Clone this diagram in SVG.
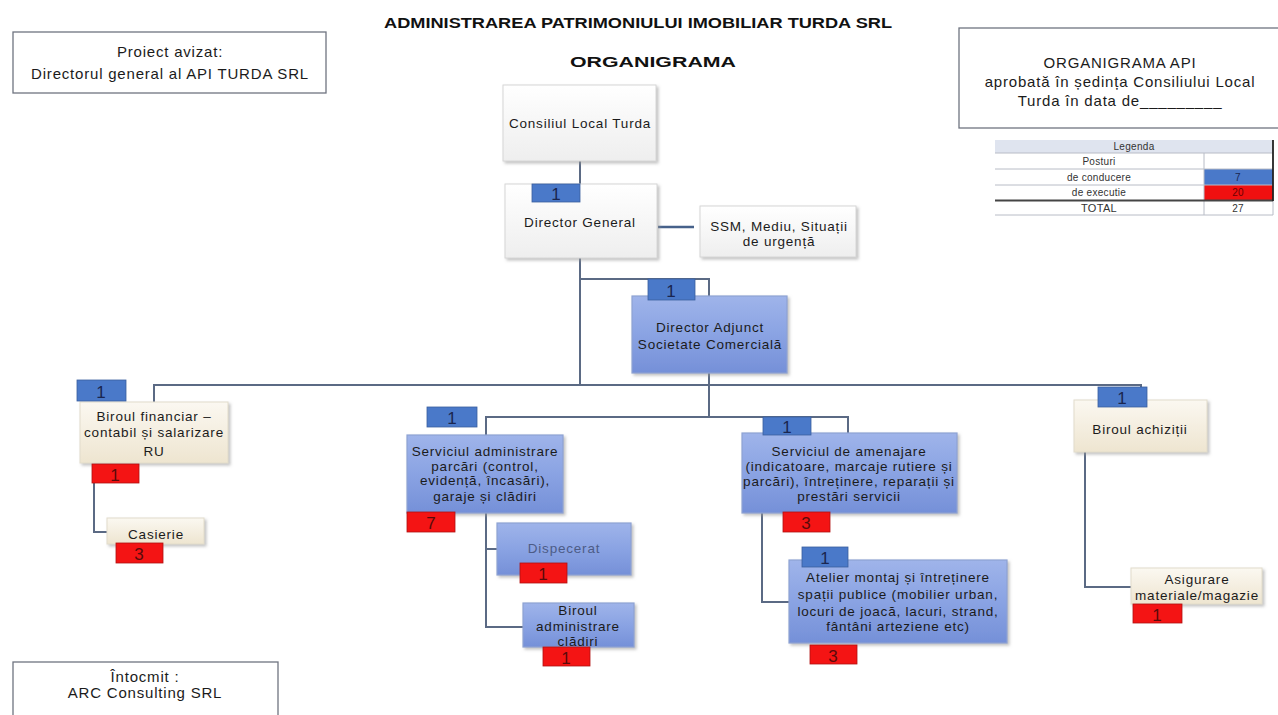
<svg xmlns="http://www.w3.org/2000/svg" width="1278" height="715" viewBox="0 0 1278 715">
<defs>
<linearGradient id="gBlue" x1="0" y1="0" x2="0" y2="1">
<stop offset="0" stop-color="#9fb4ea"/><stop offset="0.5" stop-color="#8aa3e3"/><stop offset="1" stop-color="#7590d8"/>
</linearGradient>
<linearGradient id="gCream" x1="0" y1="0" x2="0" y2="1">
<stop offset="0" stop-color="#fbf8f1"/><stop offset="1" stop-color="#eee5d0"/>
</linearGradient>
<linearGradient id="gWhite" x1="0" y1="0" x2="0" y2="1">
<stop offset="0" stop-color="#ffffff"/><stop offset="1" stop-color="#eeeeee"/>
</linearGradient>
<filter id="sh" x="-10%" y="-10%" width="125%" height="130%">
<feDropShadow dx="2" dy="2" stdDeviation="1.5" flood-color="#9a9a9a" flood-opacity="0.6"/>
</filter>
</defs>
<style>
text{font-family:"Liberation Sans",Arial,sans-serif;fill:#1b1b1b;text-anchor:middle}
.t{font-size:13.5px;letter-spacing:0.8px}
.f{font-size:15px;letter-spacing:0.8px}
.title{font-size:14px;font-weight:bold;fill:#111}
.frame{fill:#fff;stroke:#6f7480;stroke-width:1.3}
.wbox{fill:url(#gWhite);stroke:#d6d6d6;stroke-width:1;filter:url(#sh)}
.bbox{fill:url(#gBlue);stroke:#8ea2d2;stroke-width:1.2;filter:url(#sh)}
.cbox{fill:url(#gCream);stroke:#e2dccb;stroke-width:1;filter:url(#sh)}
.bb{fill:#4a79c9;stroke:#3a5f9f;stroke-width:0.8}
.rb{fill:#f41414;stroke:#b01010;stroke-width:0.8}
.bn{font-size:17px;fill:#1a2650}
.rn{font-size:17px;fill:#5a0a0a}
.conn path{fill:none;stroke:#5b6a84;stroke-width:2}
.lg{font-size:10px;letter-spacing:0.3px;fill:#333}
</style>
<rect width="1278" height="715" fill="#fff"/>

<g id="header">
<text class="title" x="638" y="28" textLength="508" lengthAdjust="spacingAndGlyphs">ADMINISTRAREA PATRIMONIULUI IMOBILIAR TURDA SRL</text>
<text class="title" x="653" y="67" textLength="166" lengthAdjust="spacingAndGlyphs">ORGANIGRAMA</text>
</g>

<g id="avizat">
<rect class="frame" x="13" y="32" width="313" height="61"/>
<text class="f" x="170" y="57">Proiect avizat:</text>
<text class="f" x="170" y="79">Directorul general al API TURDA SRL</text>
</g>

<g id="aprobat">
<rect class="frame" x="959" y="28" width="325" height="100"/>
<text class="f" x="1120" y="68">ORGANIGRAMA API</text>
<text class="f" x="1120" y="87">aprobată în ședința Consiliului Local</text>
<text class="f" x="1120" y="106">Turda în data de_________</text>
</g>

<g id="legenda">
<rect x="995" y="140" width="278" height="13" fill="#dfe4ef"/>
<rect x="995" y="153" width="278" height="62" fill="#fff"/>
<rect x="1204" y="169" width="69" height="16" fill="#4a79c9"/>
<rect x="1204" y="185" width="69" height="15" fill="#f01010"/>
<g stroke="#b8bcc6" stroke-width="1">
<line x1="995" y1="153" x2="1273" y2="153"/>
<line x1="995" y1="169" x2="1273" y2="169"/>
<line x1="995" y1="185" x2="1273" y2="185"/>
<line x1="1204" y1="153" x2="1204" y2="215"/>
<line x1="1273" y1="200" x2="1273" y2="215"/>
<line x1="995" y1="215" x2="1273" y2="215"/>
</g>
<line x1="995" y1="200.5" x2="1273" y2="200.5" stroke="#444" stroke-width="2"/>
<line x1="1273" y1="140" x2="1273" y2="201" stroke="#222" stroke-width="1.8"/>
<text class="lg" x="1134" y="150">Legenda</text>
<text class="lg" x="1099" y="165">Posturi</text>
<text class="lg" x="1099" y="181">de conducere</text>
<text class="lg" x="1099" y="196">de executie</text>
<text class="lg" x="1099" y="212" style="font-size:11px">TOTAL</text>
<text class="lg" x="1238" y="181" style="fill:#1a2650">7</text>
<text class="lg" x="1238" y="196" style="fill:#6a0000">20</text>
<text class="lg" x="1238" y="212">27</text>
</g>

<g id="connectors" class="conn">
<path d="M580 161 V184"/>
<path d="M658 227 H694" style="stroke:#46618a;stroke-width:2.5"/>
<path d="M580 258 V385"/>
<path d="M580 279 H709 V296"/>
<path d="M154 402 V385 H1141 V400"/>
<path d="M709 373 V417"/>
<path d="M486 435 V417 H848 V433"/>
<path d="M486 513 V627 H523"/>
<path d="M486 549 H497"/>
<path d="M762 513 V602 H789"/>
<path d="M94 483 V532 H107"/>
<path d="M1085 452 V587 H1131"/>
</g>

<g id="consiliul">
<rect class="wbox" x="503" y="85" width="153" height="76"/>
<text class="t" x="580" y="128">Consiliul Local Turda</text>
</g>

<g id="director-general">
<rect class="wbox" x="505" y="184" width="152" height="74"/>
<rect class="bb" x="532" y="184" width="48" height="18"/>
<text class="bn" x="556" y="200">1</text>
<text class="t" x="580" y="227">Director General</text>
</g>

<g id="ssm">
<rect class="wbox" x="700" y="206" width="156" height="51"/>
<text class="t" x="779" y="231">SSM, Mediu, Situații</text>
<text class="t" x="779" y="246">de urgență</text>
</g>

<g id="director-adjunct">
<rect class="bbox" x="632" y="296" width="155" height="77"/>
<rect class="bb" x="648" y="279" width="47" height="21"/>
<text class="bn" x="671" y="297">1</text>
<text class="t" x="710" y="332">Director Adjunct</text>
<text class="t" x="710" y="349">Societate Comercială</text>
</g>

<g id="biroul-financiar">
<rect class="cbox" x="80" y="402" width="148" height="61"/>
<rect class="bb" x="77" y="380" width="49" height="21"/>
<text class="bn" x="101" y="398">1</text>
<text class="t" x="154" y="421">Biroul financiar –</text>
<text class="t" x="154" y="437">contabil și salarizare</text>
<text class="t" x="154" y="456">RU</text>
<rect class="rb" x="92" y="464" width="47" height="19"/>
<text class="rn" x="115" y="481">1</text>
</g>

<g id="casierie">
<rect class="cbox" x="107" y="518" width="97" height="26"/>
<text class="t" x="156" y="539">Casierie</text>
<rect class="rb" x="116" y="543" width="47" height="20"/>
<text class="rn" x="139" y="560">3</text>
</g>

<g id="serviciul-administrare">
<rect class="bbox" x="407" y="435" width="156" height="78"/>
<rect class="bb" x="427" y="407" width="50" height="20"/>
<text class="bn" x="452" y="424">1</text>
<text class="t" x="485" y="456">Serviciul administrare</text>
<text class="t" x="485" y="471">parcări (control,</text>
<text class="t" x="485" y="485">evidență, încasări),</text>
<text class="t" x="485" y="501">garaje și clădiri</text>
<rect class="rb" x="407" y="512" width="48" height="20"/>
<text class="rn" x="431" y="529">7</text>
</g>

<g id="dispecerat">
<rect class="bbox" x="497" y="523" width="134" height="52"/>
<text class="t" x="564" y="553" style="fill:#4d5c86">Dispecerat</text>
<rect class="rb" x="520" y="563" width="47" height="20"/>
<text class="rn" x="543" y="580">1</text>
</g>

<g id="biroul-cladiri">
<rect class="bbox" x="523" y="603" width="111" height="44"/>
<text class="t" x="578" y="615">Biroul</text>
<text class="t" x="578" y="631">administrare</text>
<text class="t" x="578" y="646">clădiri</text>
<rect class="rb" x="543" y="647" width="47" height="19"/>
<text class="rn" x="566" y="664">1</text>
</g>

<g id="serviciul-amenajare">
<rect class="bbox" x="742" y="433" width="215" height="80"/>
<rect class="bb" x="763" y="417" width="48" height="18"/>
<text class="bn" x="787" y="433">1</text>
<text class="t" x="849" y="456">Serviciul de amenajare</text>
<text class="t" x="849" y="471">(indicatoare, marcaje rutiere și</text>
<text class="t" x="849" y="486">parcări), întreținere, reparații și</text>
<text class="t" x="849" y="501">prestări servicii</text>
<rect class="rb" x="783" y="512" width="47" height="20"/>
<text class="rn" x="806" y="529">3</text>
</g>

<g id="atelier">
<rect class="bbox" x="789" y="560" width="218" height="83"/>
<rect class="bb" x="802" y="547" width="46" height="20"/>
<text class="bn" x="825" y="564">1</text>
<text class="t" x="898" y="582">Atelier montaj și întreținere</text>
<text class="t" x="898" y="599">spații publice (mobilier urban,</text>
<text class="t" x="898" y="616">locuri de joacă, lacuri, strand,</text>
<text class="t" x="898" y="631">fântâni arteziene etc)</text>
<rect class="rb" x="810" y="645" width="47" height="19"/>
<text class="rn" x="833" y="662">3</text>
</g>

<g id="biroul-achizitii">
<rect class="cbox" x="1074" y="400" width="133" height="52"/>
<rect class="bb" x="1098" y="387" width="49" height="20"/>
<text class="bn" x="1122" y="404">1</text>
<text class="t" x="1140" y="434">Biroul achiziții</text>
</g>

<g id="asigurare">
<rect class="cbox" x="1131" y="568" width="131" height="36"/>
<text class="t" x="1197" y="584">Asigurare</text>
<text class="t" x="1197" y="600">materiale/magazie</text>
<rect class="rb" x="1133" y="604" width="49" height="19"/>
<text class="rn" x="1157" y="621">1</text>
</g>

<g id="intocmit">
<rect class="frame" x="13" y="662" width="265" height="60"/>
<text class="f" x="145" y="682">Întocmit :</text>
<text class="f" x="145" y="698">ARC Consulting SRL</text>
</g>
</svg>
